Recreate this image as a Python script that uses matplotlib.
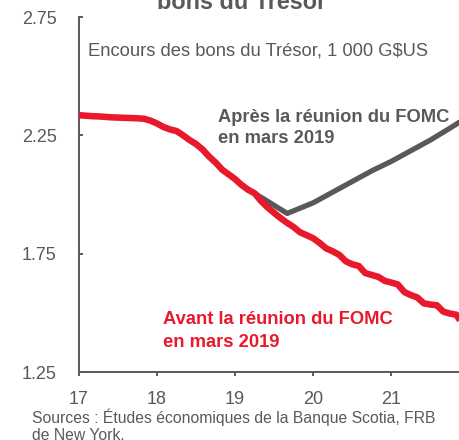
import matplotlib
matplotlib.use("Agg")
import matplotlib.pyplot as plt
import numpy as np

plt.rcParams['font.family'] = ['Liberation Sans', 'DejaVu Sans']

GRAY = '#595959'
RED = '#E8192C'

# Monthly points, Jan 2017 .. Dec 2021 (year fraction, 2-digit years)
red_x = [17 + i / 12 for i in range(60)]
red_y = [2.335, 2.333, 2.331, 2.330, 2.328, 2.326, 2.325, 2.324, 2.323, 2.322,
         2.320, 2.312, 2.300, 2.285, 2.275, 2.268, 2.250, 2.230, 2.213, 2.190,
         2.160, 2.135, 2.105, 2.085, 2.065, 2.040, 2.020, 2.005, 1.972, 1.945,
         1.922, 1.900, 1.880, 1.862, 1.840, 1.828, 1.815, 1.795, 1.772, 1.760,
         1.745, 1.718, 1.705, 1.698, 1.668, 1.660, 1.652, 1.635, 1.628, 1.620,
         1.588, 1.575, 1.565, 1.540, 1.535, 1.532, 1.505, 1.497, 1.492, 1.450]

gray_x = [19.0, 19.083, 19.167, 19.25, 19.667, 20.0, 20.25, 20.5, 20.75,
          21.0, 21.25, 21.5, 21.75, 21.917]
gray_y = [2.065, 2.040, 2.020, 2.005, 1.920, 1.965, 2.010, 2.055, 2.100,
          2.140, 2.185, 2.230, 2.280, 2.315]

x_ticks = [17, 18, 19, 20, 21]
y_ticks = [1.25, 1.75, 2.25, 2.75]

fig = plt.figure(figsize=(4.6, 4.4), dpi=100)
ax = fig.add_axes([79 / 460, 1 - 372 / 440, 1 - 79 / 460, (372 - 17) / 440])

ax.plot(gray_x, gray_y, color=GRAY, lw=3.8, solid_capstyle='butt', zorder=2)
ax.plot(red_x, red_y, color=RED, lw=4.7, solid_capstyle='butt', zorder=3)

ax.set_xlim(17, 21.88)
ax.set_ylim(1.25, 2.75)
ax.set_xticks(x_ticks)
ax.set_xticklabels([str(t) for t in x_ticks])
ax.set_yticks(y_ticks)
ax.set_yticklabels([f"{t:.2f}" for t in y_ticks])

for s in ['top', 'right']:
    ax.spines[s].set_visible(False)
for s in ['left', 'bottom']:
    ax.spines[s].set_color(GRAY)
    ax.spines[s].set_linewidth(1.4)
ax.tick_params(axis='both', colors=GRAY, labelcolor=GRAY, labelsize=13,
               width=1.4)
ax.tick_params(axis='x', direction='out', length=3, pad=10.5)
ax.tick_params(axis='y', direction='in', length=3, pad=16)
ax.set_facecolor('none')

ax.text(17.115, 2.589, "Encours des bons du Trésor, 1 000 G$US", color=GRAY,
        fontsize=13.2, va='baseline', ha='left')
ax.text(18.78, 2.306, "Après la réunion du FOMC", color=GRAY,
        fontsize=13.2, fontweight='bold', va='baseline', ha='left')
ax.text(18.78, 2.217, "en mars 2019", color=GRAY,
        fontsize=13.2, fontweight='bold', va='baseline', ha='left')
ax.text(18.077, 1.452, "Avant la réunion du FOMC", color=RED,
        fontsize=13.2, fontweight='bold', va='baseline', ha='left')
ax.text(18.077, 1.356, "en mars 2019", color=RED,
        fontsize=13.2, fontweight='bold', va='baseline', ha='left')

fig.text(0.526, 1 - 9 / 440, "bons du Trésor", color=GRAY, fontsize=16.8,
         fontweight='bold', ha='center', va='baseline')
fig.text(32 / 460, 1 - 423 / 440, "Sources : Études économiques de la Banque Scotia, FRB",
         color=GRAY, fontsize=11.3, ha='left', va='baseline')
fig.text(32 / 460, 1 - 440 / 440, "de New York.",
         color=GRAY, fontsize=11.3, ha='left', va='baseline')

fig.savefig("out.png", dpi=100)
